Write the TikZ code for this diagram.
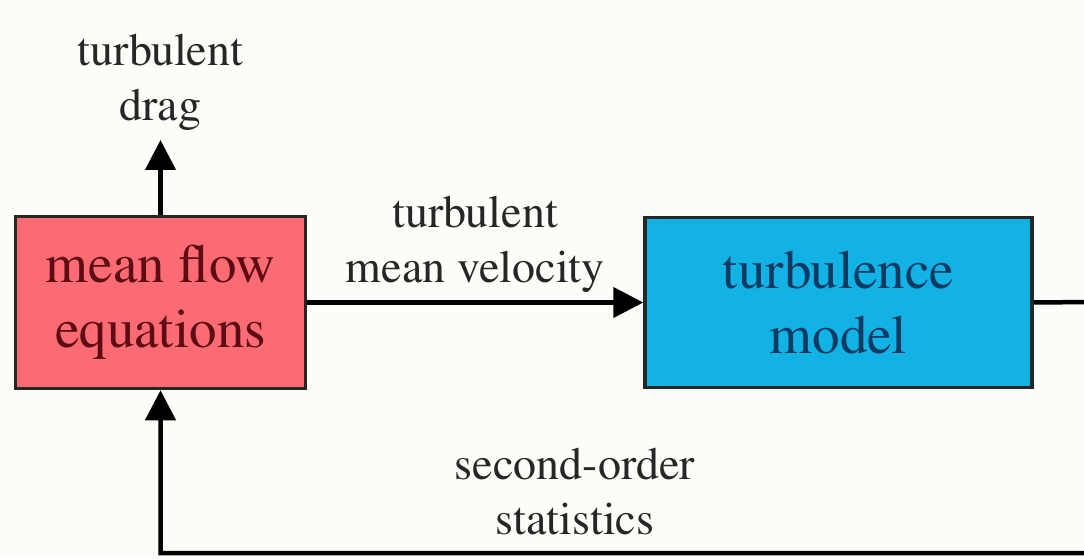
\documentclass[tikz,border=0pt]{standalone}
\usepackage[T1]{fontenc}
\usepackage{times}
\usetikzlibrary{positioning,arrows.meta}
\definecolor{boxred}{HTML}{FA6B74}
\definecolor{boxblue}{HTML}{13B2E5}
\definecolor{txtred}{HTML}{5E0C14}
\definecolor{txtblue}{HTML}{0B3A63}
\definecolor{paper}{HTML}{FCFDF8}

\begin{document}
\begin{tikzpicture}[x=1pt,y=1pt,
  block/.style={draw=black!85, line width=3.5pt, inner sep=0pt, align=center,
    font=\fontsize{55}{65}\selectfont},
  lbl/.style={align=center, text=black!85, font=\fontsize{46}{55}\selectfont},
  flow/.style={line width=4.5pt, -{Triangle[length=30pt,width=30pt]}}]
  \fill[paper] (0,0) rectangle (1084,558);
  \useasboundingbox (0,0) rectangle (1084,558);
  \node (mf) [block, fill=boxred, text=txtred, minimum width=290pt, minimum height=172pt]
    at (160.5,255.5) {mean flow\\equations};
  \node (tm) [block, fill=boxblue, text=txtblue, minimum width=387pt, minimum height=170pt,
    right=336pt of mf] {turbulence\\model};
  \coordinate (drag) at (160.5,418);
  \coordinate (c1) at (1090,256);
  \coordinate (c2) at (1090,5);
  \coordinate (c3) at (160.5,5);
  \node (dragtxt) [lbl, above=6pt of drag] {turbulent\\drag};
  \node (stats) [lbl] at (575,66) {second-order\\statistics};
  \draw[flow] (mf.north) -- (drag);
  \draw[flow] (mf) -- node [lbl, above=4pt] {turbulent\\mean velocity} (tm);
  \draw[flow] (tm.east) -- (c1) -- (c2) -- (c3) -- (mf.south);
\end{tikzpicture}
\end{document}
